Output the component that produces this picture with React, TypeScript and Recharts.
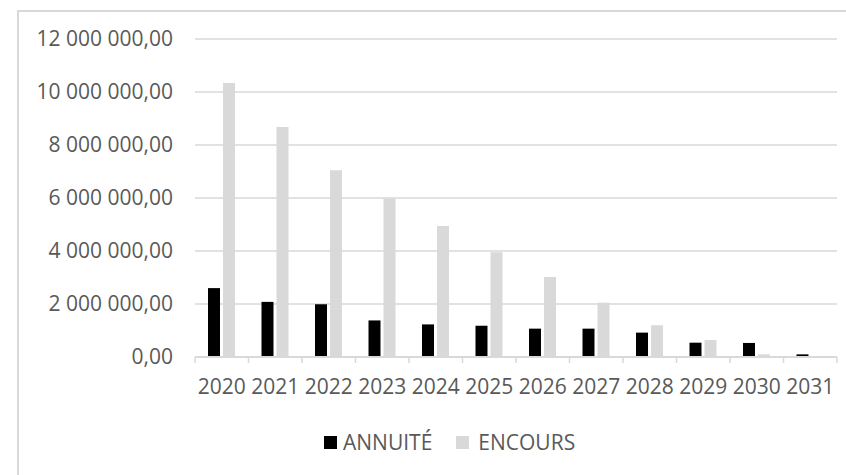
import { Bar, BarChart, CartesianGrid, XAxis, YAxis } from "recharts";

const years = ["2020", "2021", "2022", "2023", "2024", "2025", "2026", "2027", "2028", "2029", "2030", "2031"];
const annuite = [2600000, 2080000, 1990000, 1380000, 1230000, 1180000, 1070000, 1070000, 920000, 540000, 530000, 100000];
const encours = [10340000, 8680000, 7050000, 5980000, 4940000, 3950000, 3020000, 2050000, 1200000, 640000, 100000, 0];
const yTicks = [0, 2000000, 4000000, 6000000, 8000000, 10000000, 12000000];

const data = years.map((y, i) => ({ year: y, ANNUITE: annuite[i], ENCOURS: encours[i] }));

const W = 846;
const H = 475;
const LEFT = 195;
const RIGHT = 9;
const BAND = (W - LEFT - RIGHT) / years.length;
const FONT = "'Open Sans', sans-serif";
const TEXT = "#595959";
const GRID = "#d9d9d9";

const frNumber = (v: number) => {
  const [int, dec] = v.toFixed(2).split(".");
  return int.replace(/\B(?=(\d{3})+(?!\d))/g, " ") + "," + dec;
};

// Excel style: tick marks sit between categories, not under them
const YearTick = (props: any) => {
  const { x, y, payload, index } = props;
  const axisY = y - 22;
  const left = x - BAND / 2;
  return (
    <g>
      <line x1={left} x2={left} y1={axisY} y2={axisY + 6} stroke={GRID} strokeWidth={1.5} />
      {index === years.length - 1 && (
        <line x1={x + BAND / 2} x2={x + BAND / 2} y1={axisY} y2={axisY + 6} stroke={GRID} strokeWidth={1.5} />
      )}
      <text x={x} y={y} dy="0.71em" textAnchor="middle" fill={TEXT} fontSize={21} fontFamily={FONT}>
        {payload.value}
      </text>
    </g>
  );
};

const LegendBox = () => (
  <div
    style={{
      position: "absolute",
      left: 324,
      top: 428,
      display: "flex",
      alignItems: "center",
      fontFamily: FONT,
      fontSize: 21,
      color: TEXT,
    }}
  >
    <span style={{ width: 13, height: 13, background: "#000", marginRight: 6 }} />
    <span style={{ lineHeight: "28px" }}>ANNUITÉ</span>
    <span style={{ width: 13, height: 13, background: GRID, marginLeft: 24, marginRight: 9 }} />
    <span style={{ lineHeight: "28px" }}>ENCOURS</span>
  </div>
);

export default function App() {
  return (
    <div style={{ position: "absolute", left: 0, top: 0, width: W, height: H, overflow: "hidden", background: "#fff" }}>
      <div
        style={{
          position: "absolute",
          left: 17,
          top: 10,
          width: 860,
          height: 500,
          border: `2px solid ${GRID}`,
          boxSizing: "border-box",
        }}
      />
      <div style={{ position: "absolute", left: 0, top: 0 }}>
        <BarChart
          width={W}
          height={H}
          data={data}
          margin={{ top: 39, right: RIGHT, left: 0, bottom: 78 }}
          barSize={12}
          barGap={3}
        >
          <CartesianGrid vertical={false} stroke={GRID} strokeWidth={1.5} />
          <XAxis
            dataKey="year"
            height={40}
            tickLine={false}
            tickSize={6}
            tickMargin={16}
            axisLine={{ stroke: GRID, strokeWidth: 2 }}
            tick={<YearTick />}
            interval={0}
          />
          <YAxis
            width={LEFT}
            domain={[0, 12000000]}
            ticks={yTicks}
            axisLine={false}
            tickLine={false}
            tickMargin={16}
            tickFormatter={frNumber}
            tick={{ fill: TEXT, fontSize: 21, fontFamily: FONT }}
          />
          <Bar dataKey="ANNUITE" name="ANNUITÉ" fill="#000000" isAnimationActive={false} />
          <Bar dataKey="ENCOURS" name="ENCOURS" fill={GRID} isAnimationActive={false} />
        </BarChart>
      </div>
      <LegendBox />
    </div>
  );
}
